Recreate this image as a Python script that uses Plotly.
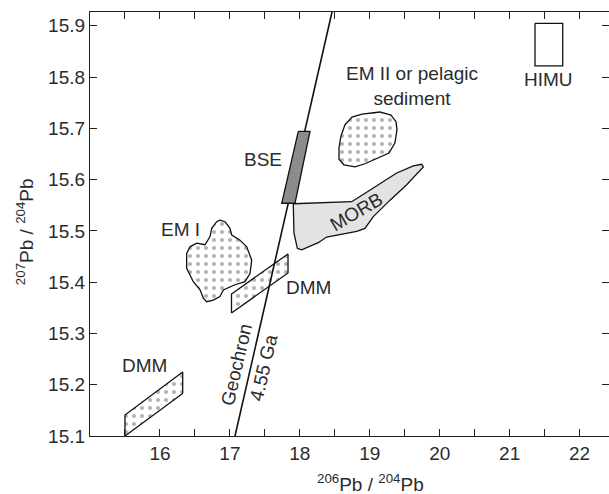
import plotly.graph_objects as go

# Pb isotope reservoirs: 206Pb/204Pb (x) vs 207Pb/204Pb (y)
geochron_x = [17.073, 18.46]
geochron_y = [15.10, 15.927]

bse_x = [17.978, 18.145, 17.931, 17.741]
bse_y = [15.694, 15.694, 15.554, 15.554]

morb_x = [17.906, 18.741, 18.860, 19.146, 19.385, 19.622, 19.742, 19.765, 19.694,
          19.528, 19.289, 19.050, 18.931, 18.813, 18.384, 18.264, 18.026, 17.964,
          17.916, 17.906]
morb_y = [15.553, 15.557, 15.567, 15.593, 15.613, 15.627, 15.630, 15.625, 15.614,
          15.590, 15.560, 15.528, 15.505, 15.499, 15.488, 15.477, 15.463, 15.466,
          15.496, 15.528]

em2_x = [18.645, 18.746, 18.889, 19.146, 19.303, 19.375, 19.389, 19.360, 19.275,
         19.117, 18.931, 18.788, 18.631, 18.560, 18.560, 18.588]
em2_y = [15.707, 15.722, 15.728, 15.732, 15.726, 15.713, 15.697, 15.672, 15.652,
         15.642, 15.631, 15.625, 15.629, 15.640, 15.662, 15.685]

em1_x = [16.858, 16.930, 17.001, 17.026, 17.144, 17.240, 17.312, 17.287, 17.216,
         17.073, 16.906, 16.858, 16.763, 16.668, 16.620, 16.573, 16.477, 16.382,
         16.382, 16.430, 16.525, 16.644, 16.716, 16.740, 16.811]
em1_y = [15.521, 15.518, 15.505, 15.492, 15.482, 15.469, 15.443, 15.417, 15.401,
         15.395, 15.385, 15.372, 15.365, 15.362, 15.369, 15.385, 15.401, 15.427,
         15.456, 15.469, 15.476, 15.473, 15.489, 15.505, 15.518]

dmm_upper_x = [17.023, 17.023, 17.831, 17.831]
dmm_upper_y = [15.340, 15.377, 15.455, 15.418]

dmm_lower_x = [15.500, 15.500, 16.325, 16.325]
dmm_lower_y = [15.100, 15.141, 15.225, 15.183]

himu_x = [21.362, 21.758, 21.758, 21.362]
himu_y = [15.905, 15.905, 15.822, 15.822]

x_tick_vals = [16, 17, 18, 19, 20, 21, 22]
x_tick_text = ["16", "17", "18", "19", "20", "21", "22"]
x_minor_vals = [15.5, 16.5, 17.5, 18.5, 19.5, 20.5, 21.5]
y_tick_vals = [15.1, 15.2, 15.3, 15.4, 15.5, 15.6, 15.7, 15.8, 15.9]
y_tick_text = ["15.1", "15.2", "15.3", "15.4", "15.5", "15.6", "15.7", "15.8", "15.9"]

labels = [
    ("EM II or pelagic<br>sediment", 19.603, 15.783, 0),
    ("BSE", 17.473, 15.640, 0),
    ("EM I", 16.287, 15.502, 0),
    ("MORB", 18.817, 15.537, -30),
    ("DMM", 18.117, 15.390, 0),
    ("DMM", 15.772, 15.237, 0),
    ("HIMU", 21.548, 15.795, 0),
    ("Geochron", 17.097, 15.239, -77),
    ("4.55 Ga", 17.487, 15.233, -77),
]

FONT = "Liberation Sans, Arial, Helvetica, sans-serif"
INK = "#2b2b2b"
OUTLINE = dict(color="#111111", width=1.3)
DOTS = dict(shape=".", bgcolor="white", fgcolor="#6a6a6a", size=8, solidity=0.22)


def closed(xs, ys):
    return list(xs) + [xs[0]], list(ys) + [ys[0]]


fig = go.Figure()


def add_region(xs, ys, fillcolor="white", pattern=None):
    cx, cy = closed(xs, ys)
    kw = dict(x=cx, y=cy, mode="lines", fill="toself", line=OUTLINE,
              fillcolor=fillcolor, hoverinfo="skip", showlegend=False)
    if pattern is not None:
        kw["fillpattern"] = pattern
    fig.add_trace(go.Scatter(**kw))


add_region(morb_x, morb_y, fillcolor="#e3e3e3")
add_region(em2_x, em2_y, pattern=DOTS)
add_region(em1_x, em1_y, pattern=DOTS)
add_region(dmm_upper_x, dmm_upper_y, pattern=DOTS)
add_region(dmm_lower_x, dmm_lower_y, pattern=DOTS)
add_region(himu_x, himu_y, fillcolor="white")

fig.add_trace(go.Scatter(x=geochron_x, y=geochron_y, mode="lines",
                         line=dict(color="#111111", width=1.6),
                         hoverinfo="skip", showlegend=False))
add_region(bse_x, bse_y, fillcolor="#8c8c8c")

for text, lx, ly, ang in labels:
    fig.add_annotation(x=lx, y=ly, xref="x", yref="y", text=text, showarrow=False,
                       textangle=ang, font=dict(family=FONT, size=19, color=INK))

# axis titles placed in paper coordinates
fig.add_annotation(xref="paper", yref="paper", x=(370 - 90) / 519, y=-(483 - 436) / 424,
                   text="<sup>206</sup>Pb / <sup>204</sup>Pb", showarrow=False,
                   xanchor="center", yanchor="middle",
                   font=dict(family=FONT, size=19, color=INK))
fig.add_annotation(xref="paper", yref="paper", x=-0.125, y=(436 - 232) / 424,
                   text="<sup>207</sup>Pb / <sup>204</sup>Pb", showarrow=False,
                   textangle=-90, xanchor="center", yanchor="middle",
                   font=dict(family=FONT, size=19, color=INK))

axis_common = dict(showgrid=False, zeroline=False, showline=True, linecolor="#222222",
                   linewidth=1.3, mirror="ticks", ticks="inside", ticklen=7,
                   tickwidth=1.2, tickcolor="#222222",
                   tickfont=dict(family=FONT, size=19, color=INK))

fig.update_xaxes(range=[15.0, 22.42], tickmode="array", tickvals=x_tick_vals,
                 ticktext=x_tick_text,
                 minor=dict(tickmode="array", tickvals=x_minor_vals, ticks="inside",
                            ticklen=7, tickwidth=1.2, tickcolor="#222222"),
                 **axis_common)
fig.update_yaxes(range=[15.1, 15.927], tickmode="array", tickvals=y_tick_vals,
                 ticktext=y_tick_text, **axis_common)

fig.update_layout(width=609, height=494, margin=dict(l=90, r=0, t=12, b=58),
                  paper_bgcolor="white", plot_bgcolor="white", showlegend=False)

fig.write_html("out.html")
